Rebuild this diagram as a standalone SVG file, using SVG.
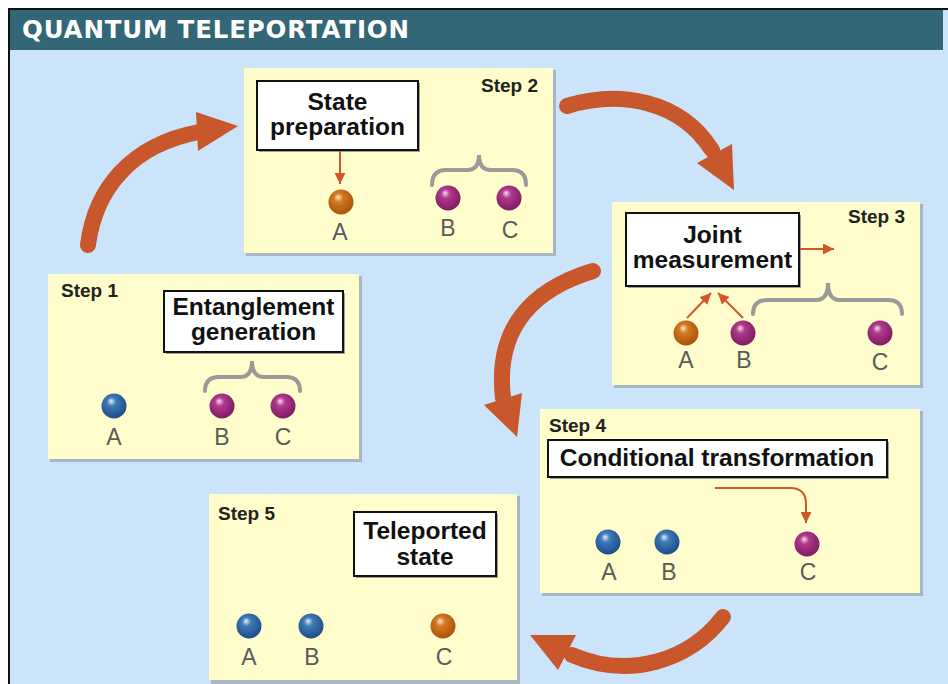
<svg xmlns="http://www.w3.org/2000/svg" width="948" height="684" viewBox="0 0 948 684">
  <style>
    .panel { fill: #fffdcc; }
    .pshadow { fill: #a8b6c4; }
    .box { fill: #ffffff; stroke: #111111; stroke-width: 2; }
    .bshadow { fill: #a0a0a0; }
    .boxtxt { font-family: "Liberation Sans", Arial, sans-serif; font-weight: bold; font-size: 24.5px; fill: #111111; text-anchor: middle; }
    .step { font-family: "Liberation Sans", Arial, sans-serif; font-weight: bold; font-size: 19px; fill: #222222; }
    .lbl { font-family: "Liberation Sans", Arial, sans-serif; font-size: 23px; fill: #5a5a5a; text-anchor: middle; }
    .brace { fill: none; stroke: #9a9a9a; stroke-width: 4; stroke-linecap: round; }
    .thin { fill: none; stroke: #d4552a; stroke-width: 2; }
    .big { fill: none; stroke: #c8572b; stroke-width: 16; stroke-linecap: round; }
    .bighead { fill: #c8572b; }
  </style>
  <defs>
    <radialGradient id="gBlue" cx="0.45" cy="0.4" r="0.6" fx="0.38" fy="0.3">
      <stop offset="0" stop-color="#e6eef8"/>
      <stop offset="0.3" stop-color="#3f7bbb"/>
      <stop offset="1" stop-color="#1c4d85"/>
    </radialGradient>
    <radialGradient id="gPurple" cx="0.45" cy="0.4" r="0.6" fx="0.38" fy="0.3">
      <stop offset="0" stop-color="#f4dcec"/>
      <stop offset="0.3" stop-color="#b23a8e"/>
      <stop offset="1" stop-color="#7e1a62"/>
    </radialGradient>
    <radialGradient id="gOrange" cx="0.45" cy="0.4" r="0.6" fx="0.38" fy="0.3">
      <stop offset="0" stop-color="#fbe8d2"/>
      <stop offset="0.3" stop-color="#d57a22"/>
      <stop offset="1" stop-color="#a9520a"/>
    </radialGradient>
    <marker id="ah" viewBox="0 0 10 10" refX="10" refY="5" markerWidth="11" markerHeight="11" orient="auto" markerUnits="userSpaceOnUse">
      <path d="M0,0 L10,5 L0,10 z" fill="#d4552a"/>
    </marker>
  </defs>

  <!-- frame and title bar -->
  <rect x="0" y="0" width="948" height="684" fill="#ffffff"/>
  <rect x="9" y="9" width="939" height="675" fill="#cce4fa"/>
  <rect x="10" y="10" width="933" height="40" fill="#336677"/>
  <line x1="8" y1="9" x2="948" y2="9" stroke="#111" stroke-width="2"/>
  <line x1="9" y1="8" x2="9" y2="684" stroke="#111" stroke-width="2"/>
  <text x="22" y="38" font-family="DejaVu Sans, Verdana, sans-serif" font-weight="bold" font-size="24.5" fill="#ffffff" textLength="387" lengthAdjust="spacing">QUANTUM TELEPORTATION</text>

  <!-- cycle arrows -->
  <g id="connectors">
    <path class="big" d="M88 245 C95 190 130 145 199 132"/>
    <polygon class="bighead" points="196,112 238,126 198,151"/>
    <path class="big" d="M567 106 C620 90 680 100 712 150"/>
    <polygon class="bighead" points="697,163 732,144 734,190"/>
    <path class="big" d="M593 271 C530 290 495 330 503 398"/>
    <polygon class="bighead" points="484,405 522,393 517,437"/>
    <path class="big" d="M723 617 C690 660 630 680 572 655"/>
    <polygon class="bighead" points="530,635 576,635 558,670"/>
  </g>

  <!-- Step 1 -->
  <g id="step1">
    <rect class="pshadow" x="50" y="276" width="312" height="186"/>
    <rect class="panel" x="48" y="274" width="311" height="185"/>
    <text class="step" x="61" y="297">Step 1</text>
    <rect class="bshadow" x="166" y="293" width="179" height="61"/>
    <rect class="box" x="164" y="291" width="179" height="61"/>
    <text class="boxtxt" x="253.5" y="315">Entanglement</text>
    <text class="boxtxt" x="253.5" y="340">generation</text>
    <path class="brace" d="M205 391 Q205 377 219 377 L240 377 Q252 377 252 361 Q252 377 264 377 L286 377 Q300 377 300 391"/>
    <circle cx="114" cy="406" r="12.5" fill="url(#gBlue)"/>
    <circle cx="222" cy="406" r="12.5" fill="url(#gPurple)"/>
    <circle cx="283" cy="406" r="12.5" fill="url(#gPurple)"/>
    <text class="lbl" x="114" y="445">A</text>
    <text class="lbl" x="222" y="445">B</text>
    <text class="lbl" x="283" y="445">C</text>
  </g>

  <!-- Step 2 -->
  <g id="step2">
    <rect class="pshadow" x="246" y="70" width="310" height="186"/>
    <rect class="panel" x="244" y="68" width="309" height="185"/>
    <text class="step" x="481" y="92">Step 2</text>
    <rect class="bshadow" x="259" y="83" width="161" height="69"/>
    <rect class="box" x="257" y="81" width="161" height="69"/>
    <text class="boxtxt" x="337.5" y="110">State</text>
    <text class="boxtxt" x="337.5" y="135">preparation</text>
    <line class="thin" x1="340" y1="151" x2="340" y2="184" marker-end="url(#ah)"/>
    <path class="brace" d="M432 185 Q432 170 446 170 L467 170 Q479 170 479 155 Q479 170 491 170 L512 170 Q526 170 526 185"/>
    <circle cx="341" cy="202" r="12.5" fill="url(#gOrange)"/>
    <circle cx="448" cy="198" r="12.5" fill="url(#gPurple)"/>
    <circle cx="509" cy="198" r="12.5" fill="url(#gPurple)"/>
    <text class="lbl" x="340" y="240">A</text>
    <text class="lbl" x="448" y="236">B</text>
    <text class="lbl" x="510" y="238">C</text>
  </g>

  <!-- Step 3 -->
  <g id="step3">
    <rect class="pshadow" x="614" y="204" width="309" height="184"/>
    <rect class="panel" x="612" y="202" width="308" height="183"/>
    <text class="step" x="848" y="223">Step 3</text>
    <rect class="bshadow" x="628" y="215" width="173" height="73"/>
    <rect class="box" x="626" y="213" width="173" height="73"/>
    <text class="boxtxt" x="712.5" y="243">Joint</text>
    <text class="boxtxt" x="712.5" y="268">measurement</text>
    <line class="thin" x1="800" y1="249" x2="834" y2="249" marker-end="url(#ah)"/>
    <line class="thin" x1="687" y1="318" x2="711" y2="293" marker-end="url(#ah)"/>
    <line class="thin" x1="743" y1="318" x2="718" y2="293" marker-end="url(#ah)"/>
    <path class="brace" d="M753 314 Q753 300 767 300 L816 300 Q828 300 828 283 Q828 300 840 300 L888 300 Q902 300 902 314"/>
    <circle cx="686" cy="333" r="12.5" fill="url(#gOrange)"/>
    <circle cx="743" cy="333" r="12.5" fill="url(#gPurple)"/>
    <circle cx="880" cy="333" r="12.5" fill="url(#gPurple)"/>
    <text class="lbl" x="686" y="368">A</text>
    <text class="lbl" x="744" y="368">B</text>
    <text class="lbl" x="880" y="370">C</text>
  </g>

  <!-- Step 4 -->
  <g id="step4">
    <rect class="pshadow" x="542" y="411" width="381" height="185"/>
    <rect class="panel" x="540" y="409" width="380" height="184"/>
    <text class="step" x="549" y="432">Step 4</text>
    <rect class="bshadow" x="550" y="442" width="339" height="37"/>
    <rect class="box" x="548" y="440" width="339" height="37"/>
    <text class="boxtxt" x="717" y="466">Conditional transformation</text>
    <path class="thin" d="M715 488 L790 488 Q806 488 806 504 L806 523" marker-end="url(#ah)"/>
    <circle cx="608" cy="542" r="12.5" fill="url(#gBlue)"/>
    <circle cx="667" cy="542" r="12.5" fill="url(#gBlue)"/>
    <circle cx="807" cy="544" r="12.5" fill="url(#gPurple)"/>
    <text class="lbl" x="609" y="580">A</text>
    <text class="lbl" x="669" y="580">B</text>
    <text class="lbl" x="808" y="580">C</text>
  </g>

  <!-- Step 5 -->
  <g id="step5">
    <rect class="pshadow" x="211" y="496" width="309" height="188"/>
    <rect class="panel" x="209" y="494" width="308" height="186"/>
    <text class="step" x="218" y="520">Step 5</text>
    <rect class="bshadow" x="356" y="514" width="142" height="64"/>
    <rect class="box" x="354" y="512" width="142" height="64"/>
    <text class="boxtxt" x="425" y="539">Teleported</text>
    <text class="boxtxt" x="425" y="565">state</text>
    <circle cx="249" cy="626" r="12.5" fill="url(#gBlue)"/>
    <circle cx="311" cy="626" r="12.5" fill="url(#gBlue)"/>
    <circle cx="443" cy="626" r="12.5" fill="url(#gOrange)"/>
    <text class="lbl" x="249" y="665">A</text>
    <text class="lbl" x="312" y="665">B</text>
    <text class="lbl" x="444" y="665">C</text>
  </g>
</svg>
